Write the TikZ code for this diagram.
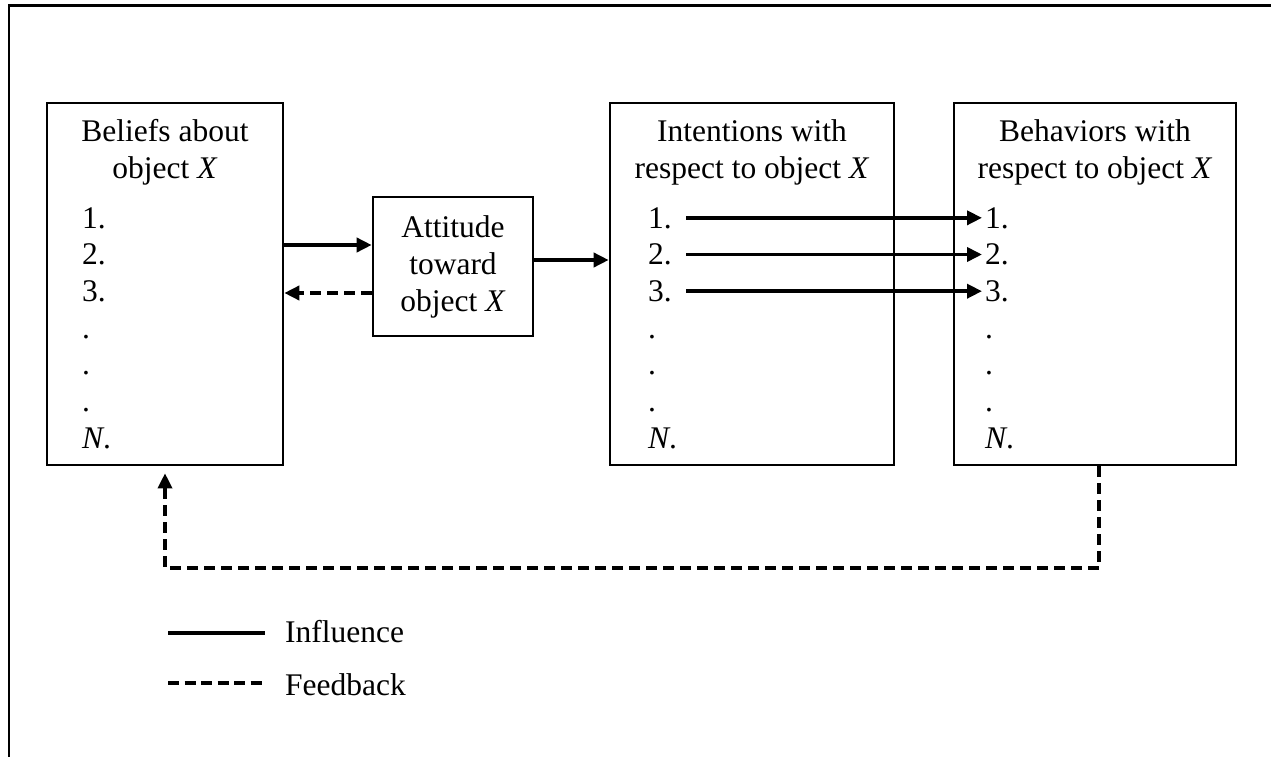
\documentclass[tikz,border=0pt]{standalone}
\usepackage{fontspec}
\setmainfont{Liberation Serif}
\usetikzlibrary{arrows.meta}
\begin{document}
\begin{tikzpicture}[x=1pt,y=-1pt,
  box/.style={draw,line width=2.6pt,inner sep=0pt},
  txt/.style={inner sep=0pt,anchor=base,font=\fontsize{31.5}{36}\selectfont},
  item/.style={inner sep=0pt,anchor=base west,font=\fontsize{31.5}{36}\selectfont},
  arr/.style={line width=3.6pt,-{Triangle[length=15pt,width=14pt]}},
  fb/.style={line width=3.4pt,dash pattern=on 11pt off 6pt},
]
\useasboundingbox (0,0) rectangle (1271,757);
% outer frame (top and left edges)
\draw[line width=2.2pt] (9,757) -- (9,5.5) -- (1271,5.5);

% boxes
\node[box,minimum width=236pt,minimum height=362pt] (beliefs) at (165,284) {};
\node[box,minimum width=160pt,minimum height=139pt] (attitude) at (453,266.5) {};
\node[box,minimum width=284pt,minimum height=362pt] (intent) at (752,284) {};
\node[box,minimum width=282pt,minimum height=362pt] (behav) at (1095,284) {};

% titles
\node[txt] (bt1) at (165,142) {Beliefs about};
\node[txt] (bt2) at (165,178) {object \textit{X}};
\node[txt] (at1) at (453,237) {Attitude};
\node[txt] (at2) at (453,274) {toward};
\node[txt] (at3) at (453,311) {object \textit{X}};
\node[txt] (it1) at (752,142) {Intentions with};
\node[txt] (it2) at (752,178) {respect to object \textit{X}};
\node[txt] (ht1) at (1095,142) {Behaviors with};
\node[txt] (ht2) at (1095,178) {respect to object \textit{X}};

% item lists
\foreach \nm/\xx in {b/82,i/648,h/985}{
  \node[item] (\nm1) at (\xx,228) {1.};
  \node[item] (\nm2) at (\xx,264.7) {2.};
  \node[item] (\nm3) at (\xx,301.4) {3.};
  \node[item] (\nm4) at (\xx,338.1) {.};
  \node[item] (\nm5) at (\xx,374.8) {.};
  \node[item] (\nm6) at (\xx,411.5) {.};
  \node[item] (\nm7) at (\xx,448.2) {\textit{N}.};
}

% connectors
\draw[arr] (beliefs.east |- 0,245) -- (attitude.west |- 0,245);
\draw[arr,dash pattern=on 11pt off 6pt] (attitude.west |- 0,293) -- (beliefs.east |- 0,293);
\draw[arr] (attitude.east |- 0,260) -- (intent.west |- 0,260);
\foreach \k in {1,2,3}{
  \draw[arr,shorten <=14pt,shorten >=3pt] (i\k.east) -- (h\k.west);
}
\coordinate (fbs) at ([xshift=4pt]behav.south);
\draw[fb] (fbs) -- (fbs |- 0,568) -- (beliefs.south |- 0,568) -- ([yshift=-20pt]beliefs.south);
\draw[arr,fb] ([yshift=-20pt]beliefs.south) -- ([yshift=-7pt]beliefs.south);

% legend
\node[item] (infl) at (285,642) {Influence};
\node[item] (feed) at (285,695) {Feedback};
\coordinate (l1) at (168,633);
\coordinate (l2) at (168,683);
\draw[line width=3.4pt,shorten >=20pt] (l1) -- (l1 -| infl.west);
\draw[line width=3.4pt,dash pattern=on 11pt off 5.5pt,shorten >=20pt] (l2) -- (l2 -| feed.west);
\end{tikzpicture}
\end{document}
